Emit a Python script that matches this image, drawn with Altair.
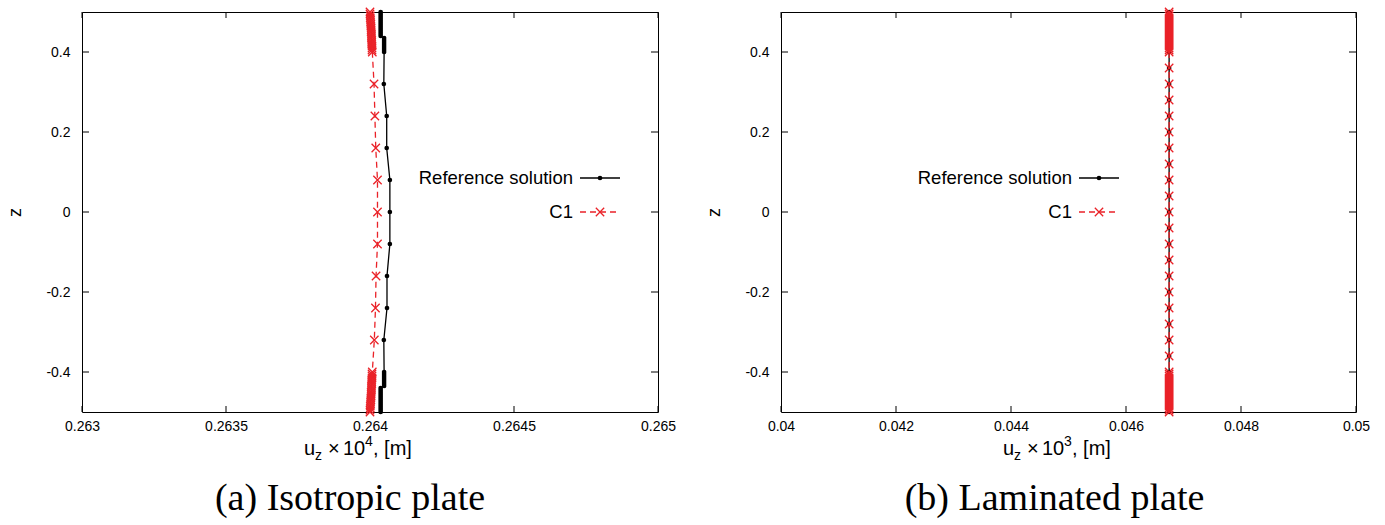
import altair as alt
import pandas as pd

# ---------------- data ----------------
Z_LEFT = [0.5, 0.495, 0.49, 0.485, 0.48, 0.475, 0.47, 0.465, 0.46, 0.455, 0.45, 0.445, 0.44,
          0.435, 0.43, 0.425, 0.42, 0.415, 0.41, 0.405, 0.4,
          0.32, 0.24, 0.16, 0.08, 0.0, -0.08, -0.16, -0.24, -0.32,
          -0.4, -0.405, -0.41, -0.415, -0.42, -0.425, -0.43, -0.435,
          -0.44, -0.445, -0.45, -0.455, -0.46, -0.465, -0.47, -0.475, -0.48, -0.485, -0.49, -0.495, -0.5]

REF_LEFT = [0.264037, 0.264037, 0.264037, 0.264037, 0.264037, 0.264037, 0.264037, 0.264037,
            0.264037, 0.264037, 0.264037, 0.264037, 0.264037,
            0.264049, 0.264049, 0.264049, 0.264049, 0.264049, 0.264049, 0.264049, 0.264049,
            0.264048, 0.264058, 0.264058, 0.264069, 0.264069, 0.264069, 0.264059, 0.264059, 0.264048,
            0.264049, 0.264049, 0.264049, 0.264049, 0.264049, 0.264049, 0.264049, 0.264049,
            0.264037, 0.264037, 0.264037, 0.264037, 0.264037, 0.264037, 0.264037, 0.264037,
            0.264037, 0.264037, 0.264037, 0.264037, 0.264037]

C1_LEFT = [0.264000, 0.264000, 0.264001, 0.264001, 0.264002, 0.264002, 0.264003, 0.264003,
           0.264004, 0.264004, 0.264004, 0.264005, 0.264005, 0.264005, 0.264006, 0.264006,
           0.264006, 0.264007, 0.264007, 0.264007, 0.264008,
           0.264014, 0.264017, 0.264020, 0.264026, 0.264026, 0.264026, 0.264021, 0.264019, 0.264015,
           0.264008, 0.264007, 0.264007, 0.264007, 0.264006, 0.264006, 0.264006, 0.264005,
           0.264005, 0.264005, 0.264004, 0.264004, 0.264004, 0.264003, 0.264003, 0.264002,
           0.264002, 0.264001, 0.264001, 0.264000, 0.264000]

Z_RIGHT = [0.5, 0.495, 0.49, 0.485, 0.48, 0.475, 0.47, 0.465, 0.46, 0.455, 0.45, 0.445, 0.44,
           0.435, 0.43, 0.425, 0.42, 0.415, 0.41, 0.405, 0.4,
           0.36, 0.32, 0.28, 0.24, 0.2, 0.16, 0.12, 0.08, 0.04, 0.0,
           -0.04, -0.08, -0.12, -0.16, -0.2, -0.24, -0.28, -0.32, -0.36,
           -0.4, -0.405, -0.41, -0.415, -0.42, -0.425, -0.43, -0.435,
           -0.44, -0.445, -0.45, -0.455, -0.46, -0.465, -0.47, -0.475, -0.48, -0.485, -0.49, -0.495, -0.5]

REF_RIGHT = [0.04675, 0.04675, 0.04675, 0.04675, 0.04675, 0.04675, 0.04675, 0.04675, 0.04675, 0.04675,
             0.04675, 0.04675, 0.04675, 0.04675, 0.04675, 0.04675, 0.04675, 0.04675, 0.04675, 0.04675,
             0.04675, 0.04675, 0.04675, 0.04675, 0.04675, 0.04675, 0.04675, 0.04675, 0.04675, 0.04675,
             0.04675, 0.04675, 0.04675, 0.04675, 0.04675, 0.04675, 0.04675, 0.04675, 0.04675, 0.04675,
             0.04675, 0.04675, 0.04675, 0.04675, 0.04675, 0.04675, 0.04675, 0.04675, 0.04675, 0.04675,
             0.04675, 0.04675, 0.04675, 0.04675, 0.04675, 0.04675, 0.04675, 0.04675, 0.04675, 0.04675,
             0.04675]

C1_RIGHT = [0.04675, 0.04675, 0.04675, 0.04675, 0.04675, 0.04675, 0.04675, 0.04675, 0.04675, 0.04675,
            0.04675, 0.04675, 0.04675, 0.04675, 0.04675, 0.04675, 0.04675, 0.04675, 0.04675, 0.04675,
            0.04675, 0.04675, 0.04675, 0.04675, 0.04675, 0.04675, 0.04675, 0.04675, 0.04675, 0.04675,
            0.04675, 0.04675, 0.04675, 0.04675, 0.04675, 0.04675, 0.04675, 0.04675, 0.04675, 0.04675,
            0.04675, 0.04675, 0.04675, 0.04675, 0.04675, 0.04675, 0.04675, 0.04675, 0.04675, 0.04675,
            0.04675, 0.04675, 0.04675, 0.04675, 0.04675, 0.04675, 0.04675, 0.04675, 0.04675, 0.04675,
            0.04675]

X_DOMAIN_LEFT = [0.263, 0.265]
X_TICKS_LEFT = [0.263, 0.2635, 0.264, 0.2645, 0.265]
X_DOMAIN_RIGHT = [0.04, 0.05]
X_TICKS_RIGHT = [0.04, 0.042, 0.044, 0.046, 0.048, 0.05]
Y_TICKS = [-0.4, -0.2, 0.0, 0.2, 0.4]

SERIES = ["Reference solution", "C1"]
CAPTIONS = ["(a) Isotropic plate", "(b) Laminated plate"]
EXPONENTS = ["4", "3"]

# ---------------- style ----------------
SANS = "Liberation Sans"
SERIF = "Liberation Serif"
RED = "#ea2228"
CROSS = "M-1,-1L1,1M-1,1L1,-1"
H = 400


def text_layer(s, x, y, size, align="left", font=SANS, baseline="alphabetic"):
    return alt.Chart(pd.DataFrame({"label": [s]})).mark_text(
        align=align, baseline=baseline, fontSize=size, font=font, color="black"
    ).encode(x=alt.value(x), y=alt.value(y), text="label:N")


def panel(z, ref, c1, xdom, xticks, exponent, caption, leg_x, width, cap_dx):
    n = len(z)
    df_ref = pd.DataFrame({"z": z, "u": ref, "idx": list(range(n))})
    df_c1 = pd.DataFrame({"z": z, "u": c1, "idx": list(range(n))})

    X = alt.X("u:Q", scale=alt.Scale(domain=xdom, nice=False, zero=False),
              axis=alt.Axis(values=xticks, format="~g", title=None, ticks=False, domain=False,
                            grid=False, labelFlush=False, labelPadding=7, labelFontSize=14,
                            labelFont=SANS, labelColor="black"))
    Y = alt.Y("z:Q", scale=alt.Scale(domain=[-0.5, 0.5], nice=False, zero=False),
              axis=alt.Axis(values=Y_TICKS, format="~g",
                            labelExpr="replace(datum.label, '\u2212', '-')",
                            title="z", titleFont=SANS, titleFontSize=18, titleFontWeight="normal",
                            titleColor="black", titlePadding=21, ticks=False, domain=False,
                            grid=False, labelPadding=12, labelFontSize=14, labelFont=SANS,
                            labelColor="black"))

    xt = pd.DataFrame({"u": xticks})
    yt = pd.DataFrame({"z": Y_TICKS})
    tick_b = alt.Chart(xt).mark_rule(color="black").encode(x=X, y=alt.value(H - 6), y2=alt.value(H))
    tick_t = alt.Chart(xt).mark_rule(color="black").encode(x=X, y=alt.value(0), y2=alt.value(6))
    tick_l = alt.Chart(yt).mark_rule(color="black").encode(y=Y, x=alt.value(0), x2=alt.value(7))
    tick_r = alt.Chart(yt).mark_rule(color="black").encode(y=Y, x=alt.value(width - 7), x2=alt.value(width))

    ref_line = alt.Chart(df_ref).mark_line(color="black", strokeWidth=1.3).encode(
        x=X, y=Y, order="idx:Q")
    ref_pts = alt.Chart(df_ref).mark_point(filled=True, shape="circle", size=22, color="black",
                                           opacity=1).encode(x=X, y=Y)
    c1_line = alt.Chart(df_c1).mark_line(color=RED, strokeWidth=1.3, strokeDash=[6, 4]).encode(
        x=X, y=Y, order="idx:Q")
    c1_pts = alt.Chart(df_c1).mark_point(shape=CROSS, size=70, color=RED, strokeWidth=1.3,
                                         filled=False, opacity=1).encode(x=X, y=Y)

    # key (gnuplot style: text then sample)
    one = pd.DataFrame({"k": [0]})
    ly1, ly2 = 166, 200
    leg = [
        text_layer(SERIES[0], leg_x, ly1, 18.5, align="right", baseline="middle"),
        alt.Chart(one).mark_rule(color="black", strokeWidth=1.3).encode(
            x=alt.value(leg_x + 7), x2=alt.value(leg_x + 47), y=alt.value(ly1)),
        alt.Chart(one).mark_point(filled=True, shape="circle", size=22, color="black", opacity=1).encode(
            x=alt.value(leg_x + 27), y=alt.value(ly1)),
        text_layer(SERIES[1], leg_x, ly2, 18.5, align="right", baseline="middle"),
        alt.Chart(one).mark_rule(color=RED, strokeWidth=1.3, strokeDash=[6, 4]).encode(
            x=alt.value(leg_x + 7), x2=alt.value(leg_x + 47), y=alt.value(ly2)),
        alt.Chart(one).mark_point(shape=CROSS, size=70, color=RED, strokeWidth=1.3, filled=False,
                                  opacity=1).encode(x=alt.value(leg_x + 27), y=alt.value(ly2)),
    ]

    # x axis title: u_z x 10^n, [m]
    x0, yb = 222, 443
    title = [
        text_layer("u", x0, yb, 20),
        text_layer("z", x0 + 11, yb + 5, 14),
        text_layer("\u00d7", x0 + 24, yb, 20),
        text_layer("10", x0 + 39, yb, 20),
        text_layer(exponent, x0 + 61, yb - 9, 14),
        text_layer(", [m]", x0 + 69, yb, 20),
    ]
    cap = text_layer(caption, width / 2 + cap_dx, 498, 38, align="center", font=SERIF)

    return alt.layer(tick_b, tick_t, tick_l, tick_r, ref_line, ref_pts, c1_line, c1_pts,
                     *leg, *title, cap).properties(width=width, height=H)


left = panel(Z_LEFT, REF_LEFT, C1_LEFT, X_DOMAIN_LEFT, X_TICKS_LEFT, EXPONENTS[0], CAPTIONS[0],
             491, 576, -20)
right = panel(Z_RIGHT, REF_RIGHT, C1_RIGHT, X_DOMAIN_RIGHT, X_TICKS_RIGHT, EXPONENTS[1], CAPTIONS[1],
              291, 575, -14)

chart = alt.hconcat(left, right, spacing=123, bounds="flush").configure_view(
    stroke="black", strokeWidth=1
).properties(padding={"left": 6, "top": 4, "right": 5, "bottom": 0}, background="white")

chart.save("out.html", embed_options={"renderer": "svg", "actions": False})
